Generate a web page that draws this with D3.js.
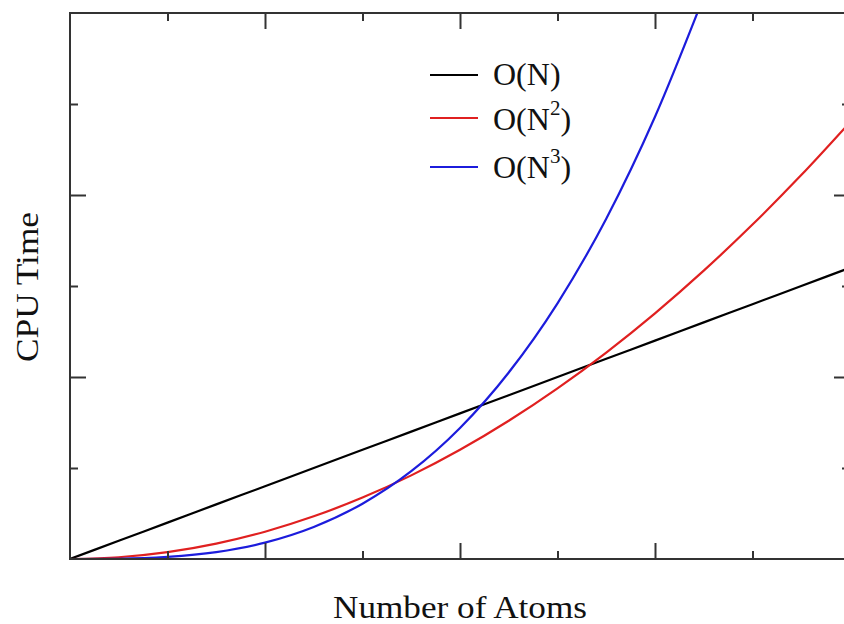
<!DOCTYPE html>
<html>
<head>
<meta charset="utf-8">
<script src="https://cdn.jsdelivr.net/npm/d3@7"></script>
<style>
	body { margin: 0; background: #fff; }
	svg { display: block; }
	text { font-family: "Liberation Serif", "DejaVu Serif", serif; fill: #111; }
</style>
</head>
<body>
<svg id="chart"></svg>
<script>
// number of atoms (arbitrary units, one unit per minor tick)
var atoms = [0, 0.5, 1, 1.5, 2, 2.5, 3, 3.5, 4, 4.5, 5, 5.5, 6, 6.5, 7, 7.5, 8];
// cpu time (arbitrary units, one unit per minor tick)
var cpu_linear = [0, 0.2, 0.4, 0.6, 0.8, 1.0, 1.2, 1.4, 1.6, 1.8, 2.0, 2.2, 2.4, 2.6, 2.8, 3.0, 3.2];
var cpu_square = [0, 0.019, 0.075, 0.169, 0.3, 0.469, 0.675, 0.919, 1.2, 1.519, 1.875, 2.269, 2.7, 3.169, 3.675, 4.219, 4.8];
var cpu_cube = [0, 0.003, 0.023, 0.076, 0.18, 0.352, 0.608, 0.965, 1.44, 2.05, 2.81, 3.74, 4.86, 6.18];
var series_names = ["O(N)", "O(N2)", "O(N3)"];
var series_colors = ["#000000", "#e02020", "#1c1cdc"];
var series_powers = ["", "2", "3"];

var margin = {top: 13, right: -6, bottom: 65, left: 70},
	W = 844, H = 624,
	width = W - margin.left - margin.right,
	height = H - margin.top - margin.bottom;

var x = d3.scaleLinear().domain([0, 8]).range([0, width]);
var y = d3.scaleLinear().domain([0, 6]).range([height, 0]);

var svg = d3.select("#chart")
	.attr("width", W)
	.attr("height", H)
	.append("g")
	.attr("transform", "translate(" + margin.left + "," + margin.top + ")");

svg.append("clipPath").attr("id", "clip")
	.append("rect").attr("width", width).attr("height", height);

var line = d3.line()
	.x(function(d) { return x(d[0]); })
	.y(function(d) { return y(d[1]); })
	.curve(d3.curveMonotoneX);

var all_series = [cpu_linear, cpu_square, cpu_cube];

svg.selectAll(".curve")
	.data(all_series)
	.enter().append("path")
	.attr("class", "curve")
	.attr("clip-path", "url(#clip)")
	.attr("fill", "none")
	.attr("stroke", function(d, i) { return series_colors[i]; })
	.attr("stroke-width", 2.2)
	.attr("d", function(d) { return line(d.map(function(v, i) { return [atoms[i], v]; })); });

// ticks on all four sides, majors every 2 units
function tickLen(v) { return v % 2 === 0 ? 16 : 8; }
var xt = d3.range(1, 8), yt = d3.range(1, 6);

svg.append("g").call(d3.axisBottom(x).tickValues(xt).tickSizeInner(0).tickSizeOuter(0).tickFormat(""))
	.attr("transform", "translate(0," + height + ")")
	.call(function(g) { g.select(".domain").remove(); })
	.selectAll(".tick line").attr("y2", function(d) { return -tickLen(d); });
svg.append("g").call(d3.axisTop(x).tickValues(xt).tickSizeInner(0).tickSizeOuter(0).tickFormat(""))
	.call(function(g) { g.select(".domain").remove(); })
	.selectAll(".tick line").attr("y2", function(d) { return tickLen(d); });
svg.append("g").call(d3.axisLeft(y).tickValues(yt).tickSizeInner(0).tickSizeOuter(0).tickFormat(""))
	.call(function(g) { g.select(".domain").remove(); })
	.selectAll(".tick line").attr("x2", function(d) { return tickLen(d); });
svg.append("g").call(d3.axisRight(y).tickValues(yt).tickSizeInner(0).tickSizeOuter(0).tickFormat(""))
	.attr("transform", "translate(" + width + ",0)")
	.call(function(g) { g.select(".domain").remove(); })
	.selectAll(".tick line").attr("x2", function(d) { return -tickLen(d); });
svg.selectAll(".tick line").attr("stroke", "#333").attr("stroke-width", 2);

svg.append("rect")
	.attr("width", width).attr("height", height)
	.attr("fill", "none").attr("stroke", "#333").attr("stroke-width", 2);

// axis titles
svg.append("text")
	.attr("x", x(4)).attr("y", height + 59)
	.attr("text-anchor", "middle")
	.attr("textLength", 254)
	.attr("lengthAdjust", "spacingAndGlyphs")
	.style("font-size", "32px")
	.text("Number of Atoms");
svg.append("text")
	.attr("transform", "translate(" + (-32) + "," + 274 + ") rotate(-90)")
	.attr("text-anchor", "middle")
	.attr("textLength", 150)
	.attr("lengthAdjust", "spacingAndGlyphs")
	.style("font-size", "32px")
	.text("CPU Time");

// legend
var leg_line_y = [62, 105, 154], leg_text_y = [72, 117, 165];
var legend = svg.selectAll(".legend")
	.data(series_names)
	.enter().append("g")
	.attr("class", "legend");
legend.append("line")
	.attr("x1", 360).attr("x2", 408)
	.attr("y1", function(d, i) { return leg_line_y[i]; })
	.attr("y2", function(d, i) { return leg_line_y[i]; })
	.attr("stroke", function(d, i) { return series_colors[i]; })
	.attr("stroke-width", 2.2);
var lt = legend.append("text")
	.attr("x", 423)
	.attr("y", function(d, i) { return leg_text_y[i]; })
	.style("font-size", "32px");
lt.append("tspan").text(function(d, i) { return series_powers[i] ? "O(N" : "O(N)"; });
lt.filter(function(d, i) { return series_powers[i]; })
	.append("tspan").attr("dy", -15).style("font-size", "21px")
	.text(function(d, i) { return series_powers[i + 1]; });
lt.filter(function(d, i) { return series_powers[i]; })
	.append("tspan").attr("dy", 15)
	.text(")");
</script>
</body>
</html>
